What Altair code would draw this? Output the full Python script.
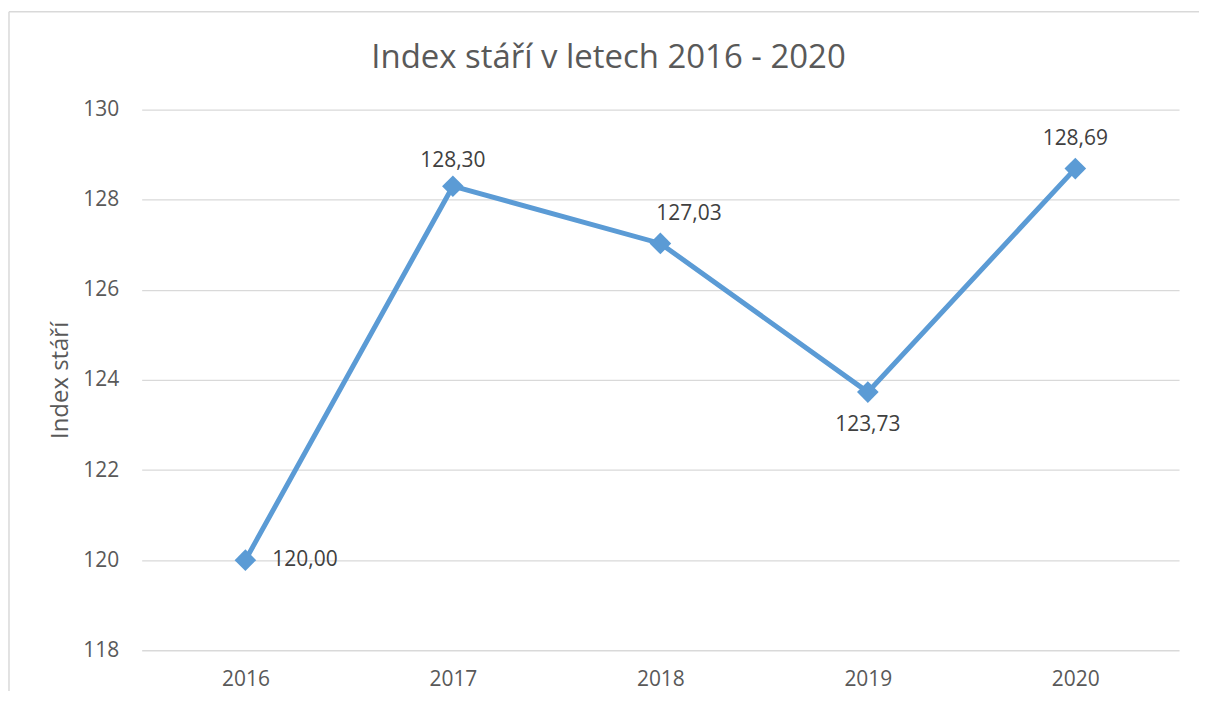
import altair as alt
import pandas as pd

years = ["2016", "2017", "2018", "2019", "2020"]
values = [120.00, 128.30, 127.03, 123.73, 128.69]
y_ticks = [118, 120, 122, 124, 126, 128, 130]
title_text = ["Index stáří v letech 2016 - 2020"]

df = pd.DataFrame({"year": years, "value": values})

FONT = "Open Sans"
LINE_COLOR = "#5B9BD5"
GRID = "#d9d9d9"

x_enc = alt.X(
    "year:O",
    scale=alt.Scale(type="point", padding=0.5),
    axis=alt.Axis(
        title=None, labelAngle=0, ticks=False, domain=False, grid=False,
        labelFont=FONT, labelFontSize=21, labelColor="#595959", labelPadding=18,
    ),
)
y_enc = alt.Y(
    "value:Q",
    scale=alt.Scale(domain=[118, 130], nice=False, zero=False),
    axis=alt.Axis(
        title="Index stáří", values=y_ticks, format="d", ticks=False, domain=False,
        grid=True, gridColor=GRID, gridWidth=1.3,
        labelFont=FONT, labelFontSize=21, labelColor="#595959", labelPadding=23,
        titleFont=FONT, titleFontSize=24, titleColor="#595959", titleFontWeight="normal",
        titlePadding=10,
    ),
)

base = alt.Chart(df).encode(x=x_enc, y=y_enc)

one = pd.DataFrame({"a": [0]})
frame_top = alt.Chart(one).mark_rule(color=GRID, strokeWidth=1.5).encode(
    x=alt.value(-133), x2=alt.value(1300), y=alt.value(-98)
)
frame_left = alt.Chart(one).mark_rule(color=GRID, strokeWidth=1.5).encode(
    x=alt.value(-133), y=alt.value(-98), y2=alt.value(800)
)

title = alt.Chart(pd.DataFrame({"t": title_text})).mark_text(
    font=FONT, fontSize=33, color="#595959", align="center", baseline="alphabetic"
).encode(x=alt.value(468), y=alt.value(-42), text="t:N")

line = base.mark_line(color=LINE_COLOR, strokeWidth=5)
points = base.mark_point(shape="diamond", filled=True, size=470, opacity=1, color=LINE_COLOR)

lab = base.transform_calculate(
    lbl="replace(format(datum.value, '.2f'), '.', ',')"
)
txt_style = dict(font=FONT, fontSize=21, color="#404040", baseline="middle")

t2016 = lab.transform_filter(alt.datum.year == "2016").mark_text(align="left", dx=27, dy=0, **txt_style).encode(text="lbl:N")
t2017 = lab.transform_filter(alt.datum.year == "2017").mark_text(align="center", dy=-25, **txt_style).encode(text="lbl:N")
t2018 = lab.transform_filter(alt.datum.year == "2018").mark_text(align="left", dx=-4, dy=-29, **txt_style).encode(text="lbl:N")
t2019 = lab.transform_filter(alt.datum.year == "2019").mark_text(align="center", dy=33, **txt_style).encode(text="lbl:N")
t2020 = lab.transform_filter(alt.datum.year == "2020").mark_text(align="center", dy=-30, **txt_style).encode(text="lbl:N")

chart = alt.layer(frame_top, frame_left, title, line, points, t2016, t2017, t2018, t2019, t2020).properties(
    width=1040,
    height=542,
    autosize=alt.AutoSizeParams(type="none"),
    padding={"left": 134, "top": 101, "right": 20, "bottom": 40},
).configure_view(stroke=None)

chart.save("out.html", embed_options={"renderer": "svg", "actions": False})
